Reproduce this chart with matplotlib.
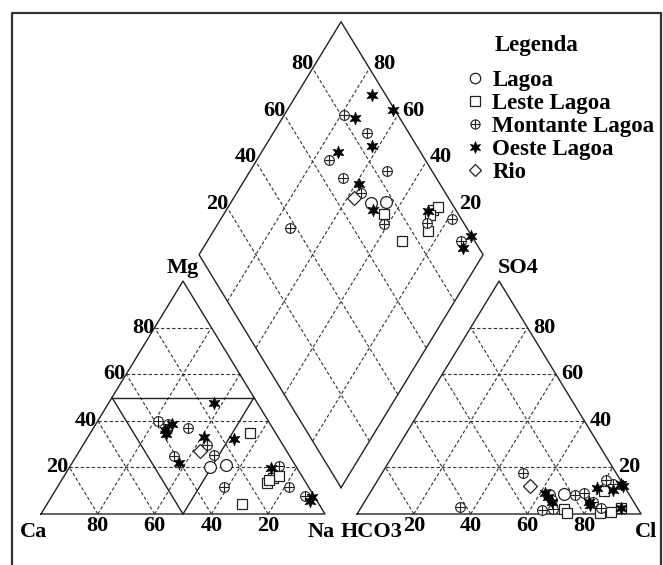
import numpy as np
import matplotlib
matplotlib.use('Agg')
import matplotlib.pyplot as plt
from matplotlib.lines import Line2D
from matplotlib.path import Path

plt.rcParams['font.family'] = ['Liberation Serif', 'DejaVu Serif']
plt.rcParams['font.weight'] = 'bold'

# composition of each sample in % (Ca = 100 - Mg - Na, HCO3 = 100 - SO4 - Cl)
groups = ['Lagoa', 'Leste Lagoa', 'Montante Lagoa', 'Oeste Lagoa', 'Rio']
sample_group = (['Lagoa'] * 2 + ['Leste Lagoa'] * 6 + ['Montante Lagoa'] * 11
                + ['Oeste Lagoa'] * 10 + ['Rio'])
mg = [20.2, 21.0,
      34.8, 4.3, 13.3, 15.5, 16.3, 14.5,
      39.9, 38.6, 36.0, 36.9, 24.9, 29.6, 25.3, 11.6, 20.6, 11.6, 7.7,
      47.6, 38.6, 36.0, 34.5, 21.9, 33.0, 32.2, 19.7, 7.5, 5.5,
      27.0]
na = [49.3, 54.5,
      56.2, 68.5, 72.8, 73.8, 75.6, 73.0,
      21.2, 25.5, 26.3, 33.2, 34.4, 43.8, 48.3, 58.5, 73.6, 81.4, 89.2,
      37.2, 26.8, 25.8, 26.8, 37.5, 41.0, 51.8, 71.2, 91.5, 91.8,
      42.5]
so4 = [8.0, 8.6,
       2.1, 0.6, 9.9, 2.6, 0.5, 0.9,
       8.2, 1.7, 3.0, 5.0, 17.6, 2.1, 9.0, 6.0, 2.6, 12.9, 14.6,
       13.0, 10.3, 5.2, 9.0, 4.0, 5.2, 7.3, 11.2, 2.6, 12.0,
       12.0]
cl = [63.5, 68.6,
      71.7, 73.6, 82.0, 91.7, 85.4, 89.0,
      72.8, 64.3, 34.8, 80.4, 49.7, 68.0, 75.3, 65.8, 84.6, 83.7, 80.4,
      86.5, 85.0, 79.1, 61.7, 80.0, 66.1, 63.6, 78.9, 91.7, 87.7,
      54.8]

S = np.sqrt(3) / 2
GAP = 11.3
X0R = 100 + GAP
LC = '#222222'
GRID = dict(color='#333333', lw=0.8, ls=(0, (3, 2)), zorder=1)
FS = 16


def tri(right, top, x0=0.0):
    right = np.asarray(right, float)
    top = np.asarray(top, float)
    return x0 + right + top / 2, top * S


def diamond(a, b):
    # a = Ca+Mg, b = SO4+Cl
    a = np.asarray(a, float)
    b = np.asarray(b, float)
    bx, by = 100 + GAP / 2, GAP * S
    return bx + (b - a) / 2, by + (a + b) * S


fig = plt.figure(figsize=(6.63, 5.65), dpi=100)
ax = fig.add_axes([0, 0, 1, 1])
ax.set_xlim(-14.44, 219.01)
ax.set_ylim(-18.96, 191.08)
ax.axis('off')

# frame of the picture
fig.add_artist(Line2D([12 / 663, 12 / 663, 661 / 663, 661 / 663], [0, 1 - 13 / 565, 1 - 13 / 565, 0],
                      transform=fig.transFigure, color='#333333', lw=1.6))

# triangles
for x0 in (0.0, X0R):
    xs, ys = tri([0, 100, 0, 0], [0, 0, 100, 0], x0)
    ax.plot(xs, ys, color=LC, lw=1.0, zorder=2)
    for v in (20, 40, 60, 80):
        for p, q in (((0, v), (100 - v, v)), ((v, 0), (v, 100 - v)), ((100 - v, 0), (0, 100 - v))):
            xs, ys = tri([p[0], q[0]], [p[1], q[1]], x0)
            ax.plot(xs, ys, **GRID)

# sub-fields of the cation triangle
for p, q in (((0, 50), (50, 50)), ((50, 0), (0, 50)), ((50, 0), (50, 50))):
    xs, ys = tri([p[0], q[0]], [p[1], q[1]])
    ax.plot(xs, ys, color=LC, lw=1.0, zorder=2)

# diamond
xs, ys = diamond([0, 100, 100, 0, 0], [0, 0, 100, 100, 0])
ax.plot(xs, ys, color=LC, lw=1.0, zorder=2)
for v in (20, 40, 60, 80):
    xs, ys = diamond([v, v], [0, 100])
    ax.plot(xs, ys, **GRID)
    xs, ys = diamond([0, 100], [v, v])
    ax.plot(xs, ys, **GRID)

# tick labels
for v in (20, 40, 60, 80):
    x, y = tri(0, v)
    ax.text(x - 0.2, y, str(v), ha='right', va='center', fontsize=FS)
    x, y = tri(100 - v, 0)
    ax.text(x, y - 0.8, str(v), ha='center', va='top', fontsize=FS)
    x, y = tri(100 - v, v, X0R)
    ax.text(x + 2.0, y, str(v), ha='left', va='center', fontsize=FS)
    x, y = tri(v, 0, X0R)
    ax.text(x, y - 0.8, str(v), ha='center', va='top', fontsize=FS)
    x, y = diamond(100, v)
    ax.text(x + 0.3, y + 1.6, str(v), ha='right', va='center', fontsize=FS)
    x, y = diamond(v, 100)
    ax.text(x + 1.4, y + 1.6, str(v), ha='left', va='center', fontsize=FS)

# corner labels
ax.text(-2.5, -6.7, 'Ca', ha='center', va='center', fontsize=FS)
ax.text(98.6, -6.7, 'Na', ha='center', va='center', fontsize=FS)
ax.text(116.5, -6.7, 'HCO3', ha='center', va='center', fontsize=FS)
ax.text(213.0, -6.7, 'Cl', ha='center', va='center', fontsize=FS)
ax.text(50.0, 91.6, 'Mg', ha='center', va='center', fontsize=FS)
ax.text(161.0, 91.6, 'SO4', ha='left', va='center', fontsize=FS)

star = Path.unit_regular_star(6, innerCircle=0.45)
styles = {
    'Lagoa': [dict(marker='o', ms=8.5, mfc='white', mec=LC, mew=0.9)],
    'Leste Lagoa': [dict(marker='s', ms=7.5, mfc='white', mec=LC, mew=0.9)],
    'Montante Lagoa': [dict(marker='o', ms=7, mfc='white', mec=LC, mew=0.8),
                       dict(marker='+', ms=7, mec=LC, mew=0.8)],
    'Oeste Lagoa': [dict(marker=star, ms=9, mfc='black', mec='black', mew=0.5)],
    'Rio': [dict(marker='D', ms=7.5, mfc='white', mec=LC, mew=0.9)],
}
legend_styles = {
    'Lagoa': [dict(marker='o', ms=7.5, mfc='white', mec=LC, mew=0.9)],
    'Leste Lagoa': [dict(marker='s', ms=6.5, mfc='white', mec=LC, mew=0.9)],
    'Montante Lagoa': [dict(marker='o', ms=6.5, mfc='white', mec=LC, mew=0.8),
                       dict(marker='+', ms=6.5, mec=LC, mew=0.8)],
    'Oeste Lagoa': [dict(marker=star, ms=8.5, mfc='black', mec='black', mew=0.5)],
    'Rio': [dict(marker='D', ms=6.5, mfc='white', mec=LC, mew=0.9)],
}

df_group = np.array(sample_group)
mg_a, na_a, so4_a, cl_a = map(np.array, (mg, na, so4, cl))

handles = []
for z, g in enumerate(groups):
    sel = df_group == g
    cx, cy = tri(na_a[sel], mg_a[sel])
    axx, axy = tri(cl_a[sel], so4_a[sel], X0R)
    dx, dy = diamond(100 - na_a[sel], so4_a[sel] + cl_a[sel])
    for st in styles[g]:
        for px, py in ((cx, cy), (axx, axy), (dx, dy)):
            ax.plot(px, py, ls='none', zorder=3 + z, **st)
    hs = tuple(Line2D([], [], ls='none', **st) for st in legend_styles[g])
    handles.append(hs if len(hs) > 1 else hs[0])

fig.text(537 / 663, 1 - 45 / 565, 'Legenda', ha='center', va='center', fontsize=16.5)
ax.legend(handles, groups, loc='upper left', bbox_to_anchor=(466 / 663, 1 - 70 / 565),
          bbox_transform=fig.transFigure, frameon=False,
          prop={'size': 16.5, 'weight': 'bold'}, handlelength=0.8, handletextpad=0.35,
          labelspacing=0.09, borderpad=0, borderaxespad=0)

fig.savefig('out.png', dpi=100)
